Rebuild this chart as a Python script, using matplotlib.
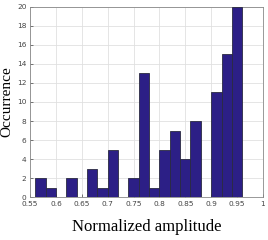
import numpy as np
import matplotlib
matplotlib.use('Agg')
import matplotlib.pyplot as plt
from matplotlib.ticker import FuncFormatter

# histogram bin edges (left) and counts
bin_left = [0.56, 0.58, 0.60, 0.62, 0.64, 0.66, 0.68, 0.70, 0.72, 0.74,
            0.76, 0.78, 0.80, 0.82, 0.84, 0.86, 0.88, 0.90, 0.92, 0.94]
counts = [2, 1, 0, 2, 0, 3, 1, 5, 0, 2,
          13, 1, 5, 7, 4, 8, 0, 11, 15, 20]
bin_width = 0.02
xticks = [0.55, 0.6, 0.65, 0.7, 0.75, 0.8, 0.85, 0.9, 0.95, 1.0]
yticks = list(range(0, 21, 2))

fig = plt.figure(figsize=(2.68, 2.4), dpi=100)
ax = fig.add_axes([0.112, 0.179, 0.869, 0.792])

ax.bar(bin_left, counts, width=bin_width, align='edge',
       color='#2c1f86', edgecolor='#2a2a40', linewidth=0.6, zorder=3)

ax.set_xlim(0.55, 1.0)
ax.set_ylim(0, 20)
ax.set_xticks(xticks)
ax.set_yticks(yticks)
ax.xaxis.set_major_formatter(FuncFormatter(lambda v, p: '%g' % round(v, 2)))
ax.grid(True, color='#e0e0e0', linewidth=0.6, zorder=0)
ax.tick_params(labelsize=5.3, colors='#444444', length=2, width=0.5,
               direction='in', pad=2.5)
for s in ax.spines.values():
    s.set_color('#888888')
    s.set_linewidth(0.6)

ax.set_xlabel('Normalized amplitude', family='Liberation Serif', fontsize=12,
              labelpad=9)
ax.set_ylabel('Occurrence', family='Liberation Serif', fontsize=11,
              labelpad=3)

fig.savefig('out.png', dpi=100)
